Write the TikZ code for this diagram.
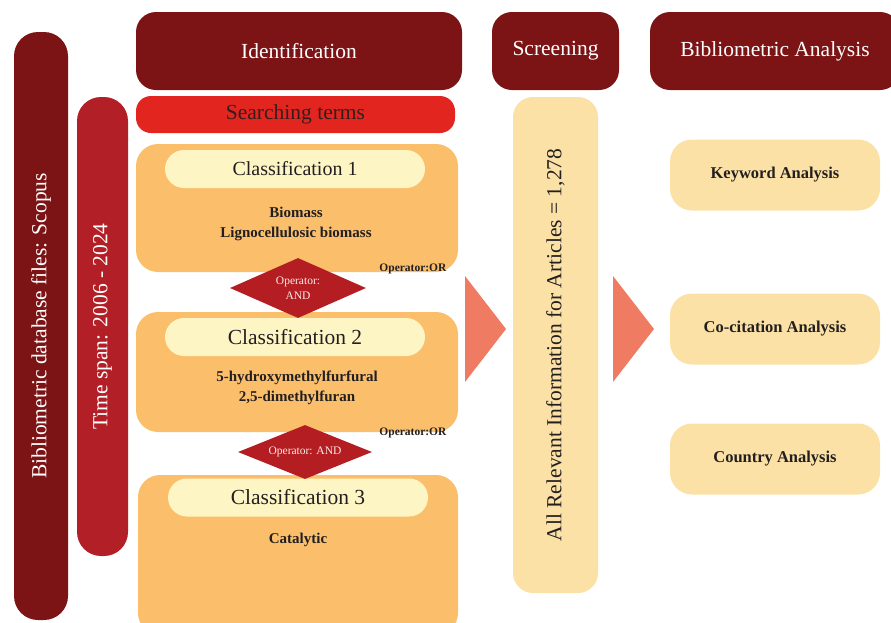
\documentclass[tikz,border=0pt]{standalone}
\usepackage{fontspec}
\setmainfont{Liberation Serif}
\usetikzlibrary{shapes.geometric,positioning}

\definecolor{darkred}{HTML}{7C1416}
\definecolor{spanred}{HTML}{B31F27}
\definecolor{searchred}{HTML}{E2261F}
\definecolor{diamondred}{HTML}{B41E22}
\definecolor{orangebox}{HTML}{FBBF6C}
\definecolor{paleyellow}{HTML}{FEF5C4}
\definecolor{cream}{HTML}{FBE1A5}
\definecolor{salmon}{HTML}{EE7B62}
\definecolor{inktext}{HTML}{231F20}

\newcommand{\setfs}[2][1.2]{\fontsize{#2}{#1\dimexpr #2pt\relax}\selectfont}

\begin{document}
\begin{tikzpicture}[x=1pt, y=-1pt,
	hdr/.style={fill=darkred, rounded corners=20pt, text=white, font=\setfs{21.5}, inner sep=0},
	bar/.style={rounded corners=24pt, text=white, font=\setfs{21.5}, inner sep=0, rotate=90},
	clsbox/.style={fill=orangebox, rounded corners=22pt, inner sep=0},
	clshead/.style={fill=paleyellow, rounded corners=19pt, minimum width=260, minimum height=38, inner sep=0, text=inktext},
	terms/.style={align=center, text=inktext, font=\bfseries\fontsize{15}{20}\selectfont},
	opor/.style={anchor=east, text=inktext, font=\bfseries\setfs{11.5}},
	opand/.style={diamond, aspect=2.2, fill=diamondred, inner sep=0, align=center, text=white!85!salmon, font=\fontsize{11.5}{15.5}\selectfont},
	anabox/.style={fill=cream, rounded corners=22pt, minimum width=210, minimum height=71, inner sep=0, text=inktext, font=\bfseries\setfs{16.5}}]
	\useasboundingbox (0,0) rectangle (891,622);

	% side bars
	\node[bar, fill=darkred, minimum width=588, minimum height=54] (db) at (41,326) {Bibliometric database files: Scopus};
	\node[bar, fill=spanred, minimum width=459, minimum height=51] (span) at (102.5,326.5) {Time span: 2006 - 2024};

	% headers
	\node[hdr, minimum width=326, minimum height=78] (ident) at (299,51) {Identification};
	\node[hdr, minimum width=127, minimum height=78] (screen) at (555.5,51) {Screening};
	\node[hdr, minimum width=250, minimum height=78] (biblio) at (775,51) {Bibliometric Analysis};

	\node[fill=searchred, rounded corners=15pt, minimum width=319, minimum height=37, inner sep=0,
		text=inktext!80!darkred, font=\setfs{21.5}] (search) at (295.5,114.5) {Searching terms};

	% classifications
	\node[clsbox, minimum width=322, minimum height=128] (cls1) at (297,208) {};
	\node[clshead, font=\setfs{20}] (head1) at (295,169) {Classification 1};
	\node[terms] (terms1) at (296,224) {Biomass\\Lignocellulosic biomass};
	\node[opor] (or1) at (450,269) {Operator:OR};

	\node[clsbox, minimum width=322, minimum height=120] (cls2) at (297,372) {};
	\node[clshead, font=\setfs{21.5}] (head2) at (295,337) {Classification 2};
	\node[terms] (terms2) at (297,388) {5-hydroxymethylfurfural\\2,5-dimethylfuran};
	\node[opor] (or2) at (450,433) {Operator:OR};

	\node[clsbox, minimum width=320, minimum height=160] (cls3) at (298,555) {};
	\node[clshead, font=\setfs{21.5}] (head3) at (298,497.5) {Classification 3};
	\node[terms] (terms3) at (298,540) {Catalytic};

	\node[opand, minimum width=136, minimum height=60] (and1) at (298,288) {Operator:\\AND};
	\node[opand, minimum width=134, minimum height=54] (and2) at (305,452) {Operator: AND};

	% screening
	\node[fill=cream, rounded corners=20pt, minimum width=496, minimum height=85, inner sep=0, rotate=90,
		text=inktext, font=\setfs{21.5}] (articles) at (555.5,345) {All Relevant Information for Articles = 1,278};
	\fill[salmon] (465,276) -- (506,329) -- (465,382) -- cycle;
	\fill[salmon] (613,276) -- (654,329) -- (613,382) -- cycle;

	% analyses
	\node[anabox] (keyword) at (775,175) {Keyword Analysis};
	\node[anabox] (cocite) at (775,329) {Co-citation Analysis};
	\node[anabox] (country) at (775,459) {Country Analysis};
\end{tikzpicture}
\end{document}
